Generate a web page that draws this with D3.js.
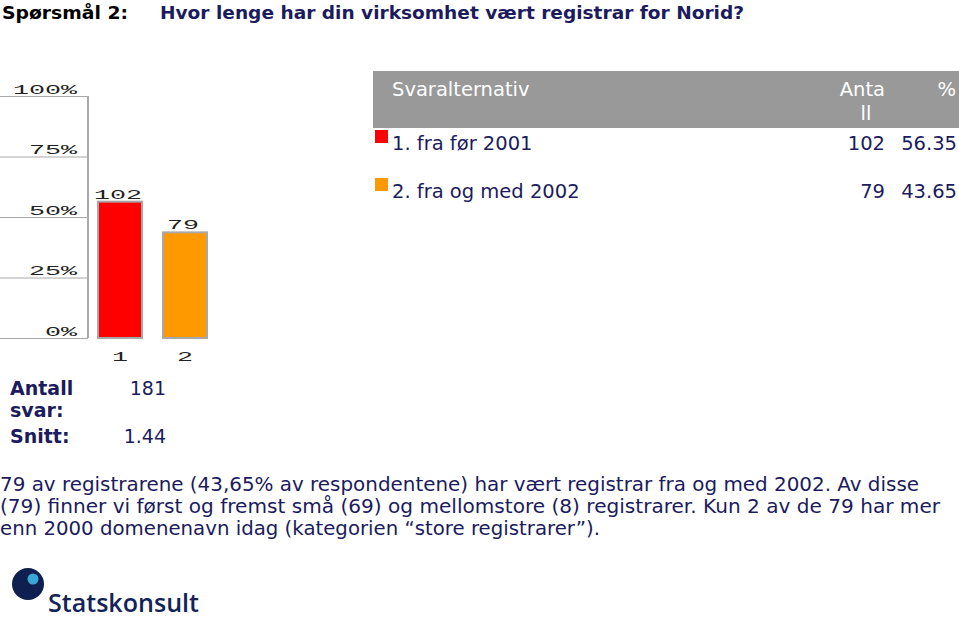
<!DOCTYPE html>
<html>
<head>
<meta charset="utf-8">
<script src="https://cdn.jsdelivr.net/npm/d3@7"></script>
<style>
  body { margin: 0; background: #fff; }
  svg { display: block; }
</style>
</head>
<body>
<script>
// data
const codes = ["1", "2"]
const categories = ["1. fra før 2001", "2. fra og med 2002"]
const counts = [102, 79]
const percents = [56.35, 43.65]
const colors = ["#ff0000", "#ff9900"]
const ticks = [0, 25, 50, 75, 100]
const totalAnswers = 181
const mean = "1.44"
const paragraph = [
    "79 av registrarene (43,65% av respondentene) har vært registrar fra og med 2002. Av disse",
    "(79) finner vi først og fremst små (69) og mellomstore (8) registrarer. Kun 2 av de 79 har mer",
    "enn 2000 domenenavn idag (kategorien \u201Cstore registrarer\u201D)."
]

const navy = "#1b1b5e"
const W = 959, H = 619

const svg = d3.select("body").append("svg")
    .attr("width", W)
    .attr("height", H)

// title
svg.append("text")
    .attr("x", 2).attr("y", 19)
    .style("font-family", "DejaVu Sans").style("font-weight", "bold")
    .style("font-size", "18.5px").attr("fill", "#000")
    .attr("textLength", 126).attr("lengthAdjust", "spacingAndGlyphs")
    .text("Spørsmål 2:")
svg.append("text")
    .attr("x", 160).attr("y", 19)
    .style("font-family", "DejaVu Sans").style("font-weight", "bold")
    .style("font-size", "18.5px").attr("fill", navy)
    .attr("textLength", 584).attr("lengthAdjust", "spacingAndGlyphs")
    .text("Hvor lenge har din virksomhet vært registrar for Norid?")

// bar chart
const y = d3.scaleLinear().domain([0, 100]).range([338, 96])
const x = d3.scaleBand().domain(codes).range([98, 207]).paddingInner(0.323).paddingOuter(0)

const pixelFont = g => g.selectAll("text")
    .style("font-family", "Liberation Mono")
    .style("font-size", "12px")
    .attr("fill", "#222")

const yAxis = svg.append("g")
    .call(d3.axisRight(y).tickValues(ticks).tickSize(88).tickFormat(d => d + "%"))
yAxis.select(".domain").remove()
yAxis.selectAll("line").attr("stroke", "#a8a8a8")
yAxis.selectAll("text")
    .attr("x", 77).attr("dy", "-3").attr("text-anchor", "end")
    .attr("textLength", d => String(d).length * 16 + 16)
    .attr("lengthAdjust", "spacingAndGlyphs")
yAxis.call(pixelFont)
yAxis.attr("font-family", null).attr("font-size", null)

svg.append("line")
    .attr("x1", 88).attr("x2", 88)
    .attr("y1", y(100)).attr("y2", y(0))
    .attr("stroke", "#a8a8a8").attr("stroke-width", 2)

svg.selectAll("rect.bar")
    .data(codes)
    .join("rect")
    .attr("class", "bar")
    .attr("x", d => x(d))
    .attr("y", (d, i) => y(percents[i]))
    .attr("width", x.bandwidth())
    .attr("height", (d, i) => y(0) - y(percents[i]))
    .attr("fill", (d, i) => colors[i])
    .attr("stroke", "#a8a8a8").attr("stroke-width", 2)

const valueLabels = svg.append("g")
valueLabels.selectAll("text")
    .data(codes)
    .join("text")
    .attr("x", d => x(d) + x.bandwidth() / 2 - 2)
    .attr("y", (d, i) => y(percents[i]) - 3)
    .attr("text-anchor", "middle")
    .attr("textLength", (d, i) => String(counts[i]).length * 16)
    .attr("lengthAdjust", "spacingAndGlyphs")
    .text((d, i) => counts[i])
valueLabels.call(pixelFont)

const xAxis = svg.append("g")
    .attr("transform", `translate(0,${y(0)})`)
    .call(d3.axisBottom(x).tickSize(0).tickPadding(14))
xAxis.select(".domain").remove()
xAxis.selectAll("text").attr("textLength", 16).attr("lengthAdjust", "spacingAndGlyphs")
xAxis.call(pixelFont)

// table
const tbl = svg.append("g")
tbl.append("rect")
    .attr("x", 373).attr("y", 71).attr("width", W - 373).attr("height", 57)
    .attr("fill", "#999999")
const headFont = sel => sel.style("font-family", "DejaVu Sans").style("font-size", "19.5px").attr("fill", "#fff")
tbl.append("text").attr("x", 392).attr("y", 96).text("Svaralternativ").call(headFont)
tbl.append("text").attr("x", 885).attr("y", 96).attr("text-anchor", "end").text("Anta").call(headFont)
tbl.append("text").attr("x", 866).attr("y", 120).attr("text-anchor", "middle").text("ll").call(headFont)
tbl.append("text").attr("x", 956).attr("y", 96).attr("text-anchor", "end").text("%").call(headFont)

const rows = tbl.selectAll("g.row")
    .data(categories)
    .join("g")
    .attr("class", "row")
    .attr("transform", (d, i) => `translate(0,${150 + i * 48})`)
rows.append("rect")
    .attr("x", 375).attr("y", -20).attr("width", 13).attr("height", 13)
    .attr("fill", (d, i) => colors[i])
const rowText = sel => sel.style("font-family", "DejaVu Sans").style("font-size", "19.5px").attr("fill", navy)
rows.append("text").attr("x", 392).text(d => d).call(rowText)
rows.append("text").attr("x", 885).attr("text-anchor", "end").text((d, i) => counts[i]).call(rowText)
rows.append("text").attr("x", 957).attr("text-anchor", "end").text((d, i) => percents[i].toFixed(2)).call(rowText)

// summary
const bold = sel => sel.style("font-family", "DejaVu Sans").style("font-weight", "bold")
    .style("font-size", "19px").attr("fill", navy)
const plain = sel => sel.style("font-family", "DejaVu Sans").style("font-size", "19px").attr("fill", navy)
svg.append("text").attr("x", 10).attr("y", 395).text("Antall").call(bold)
svg.append("text").attr("x", 10).attr("y", 417).text("svar:").call(bold)
svg.append("text").attr("x", 10).attr("y", 443).text("Snitt:").call(bold)
svg.append("text").attr("x", 166).attr("y", 395).attr("text-anchor", "end").text(totalAnswers).call(plain)
svg.append("text").attr("x", 166).attr("y", 443).attr("text-anchor", "end").text(mean).call(plain)

// paragraph, each line stretched to the width it has in the original
const lineWidths = [919, 940, 600]
svg.append("g").selectAll("text")
    .data(paragraph)
    .join("text")
    .attr("x", 0)
    .attr("y", (d, i) => 491 + i * 22)
    .attr("textLength", (d, i) => lineWidths[i])
    .attr("lengthAdjust", "spacingAndGlyphs")
    .text(d => d)
    .call(plain)

// logo
const logo = svg.append("g")
logo.append("circle").attr("cx", 28).attr("cy", 584).attr("r", 16).attr("fill", "#0f1f4f")
logo.append("circle").attr("cx", 33).attr("cy", 579).attr("r", 5.5).attr("fill", "#3aa6d6")
logo.append("text")
    .attr("x", 48).attr("y", 612)
    .style("font-family", "Open Sans").style("font-weight", "600")
    .style("font-size", "25px").attr("fill", "#13235a")
    .attr("textLength", 151).attr("lengthAdjust", "spacingAndGlyphs")
    .text("Statskonsult")
</script>
</body>
</html>
